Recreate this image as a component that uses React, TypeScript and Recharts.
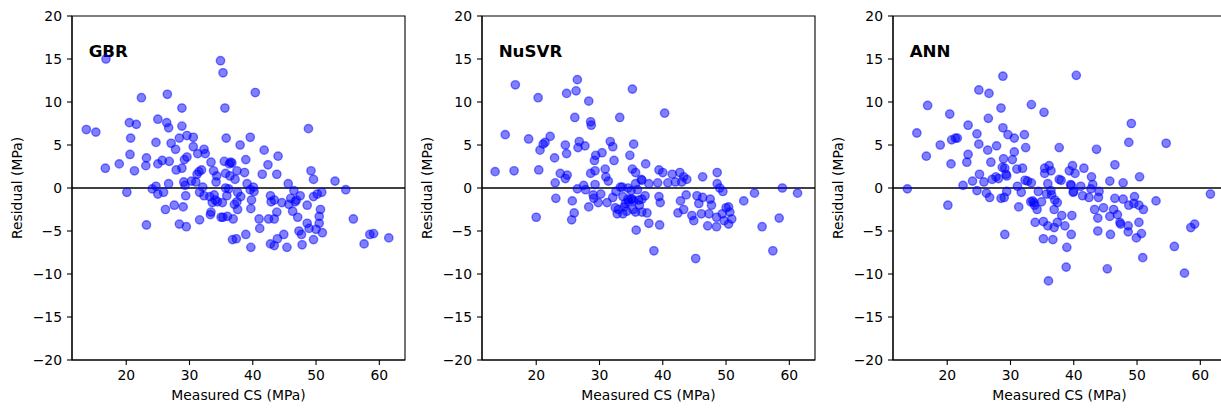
import React from 'react';
import { ScatterChart, Scatter, XAxis, YAxis, ReferenceLine, ReferenceArea, Label } from 'recharts';

const xTicks = [20, 30, 40, 50, 60];
const yTicks = [-20, -15, -10, -5, 0, 5, 10, 15, 20];
const titles = ['GBR', 'NuSVR', 'ANN'];
const X_DOMAIN: [number, number] = [11.43, 64.06];
const Y_DOMAIN: [number, number] = [-20, 20];

const gbrX = [13.7,15.2,16.8,16.7,18.9,20.1,20.5,20.7,20.6,21.6,21.3,22.4,23.2,23.1,23.2,24.1,24.7,24.7,25.0,25.0,25.0,25.7,25.9,26.2,26.4,26.5,26.7,26.7,26.8,27.1,27.6,27.8,27.9,28.4,28.4,28.8,28.8,28.8,29.0,29.1,29.2,29.5,29.4,29.3,29.6,29.6,30.3,30.6,30.6,31.0,31.2,31.3,31.5,31.6,31.6,31.9,32.1,32.3,32.3,32.5,33.2,33.4,33.3,33.4,33.6,33.8,33.9,34.1,34.2,34.3,34.4,34.9,35.3,35.0,35.3,35.2,35.5,35.6,35.8,35.7,35.7,35.9,36.0,36.2,36.3,36.5,36.7,36.4,36.9,36.8,37.1,37.2,37.4,37.5,37.6,37.6,37.5,38.0,38.1,38.7,38.9,38.9,39.1,39.6,39.6,39.7,39.7,39.8,40.1,40.2,40.4,41.0,41.1,41.5,41.8,42.4,42.5,42.8,42.9,42.8,43.4,43.4,43.4,43.8,43.8,43.9,44.0,44.6,44.9,45.4,45.6,45.7,46.0,46.3,46.5,46.7,46.9,47.1,47.3,47.5,47.7,47.8,48.6,48.6,48.8,48.9,49.2,49.6,49.6,49.6,50.0,50.2,50.5,50.5,50.7,51.0,50.9,53.0,54.7,55.9,57.6,58.5,59.1,61.5];
const gbrY = [6.8,6.5,15.0,2.3,2.8,-0.5,7.6,5.8,3.9,7.4,2.0,10.5,3.5,2.6,-4.3,-0.1,5.3,0.2,8.0,2.8,-0.7,3.2,-0.5,-2.5,7.6,10.9,7.0,0.5,3.1,5.2,-2.0,4.5,2.1,5.8,-4.2,7.2,9.3,2.3,-2.2,0.7,3.3,-4.5,-0.9,0.3,3.6,6.1,0.8,5.9,4.8,0.7,1.6,4.0,1.9,-3.7,-0.5,2.1,0.1,-0.9,4.5,4.0,-1.0,3.0,-3.1,-2.8,-1.7,2.0,-0.8,-1.4,0.7,1.4,-1.6,14.8,13.4,-3.4,-3.4,-1.7,3.1,9.3,5.8,1.7,0.0,-0.9,-3.3,-0.1,2.8,3.0,2.9,1.4,-3.6,-6.0,-1.9,1.0,-5.9,2.0,-0.5,-2.5,-1.6,5.0,-1.0,1.8,-5.4,3.3,0.5,5.9,-0.2,-6.9,-2.4,-1.4,0.1,-0.4,11.1,-3.6,-4.7,1.6,4.4,2.7,-3.6,-0.9,-1.6,-6.5,-3.6,-6.7,-1.4,1.6,-2.8,-5.9,3.7,-1.7,-5.4,-6.9,0.5,-1.9,-1.2,-2.7,-0.3,-1.6,-1.4,-3.4,-5.0,-0.9,-5.4,-6.6,-2.0,-4.1,6.9,-4.7,2.0,1.0,-1.0,-6.0,-4.8,-0.7,-3.3,-4.1,-2.5,-5.2,-0.5,0.8,-0.2,-3.6,-6.5,-5.4,-5.3,-5.8];

const svrX = [13.5,15.1,16.5,16.7,18.8,20.3,20.4,20.6,21.1,21.4,22.2,22.9,23.0,23.1,23.8,24.6,24.6,24.8,24.8,24.9,25.7,26.1,26.3,26.5,26.8,26.6,26.5,27.5,27.7,27.8,28.3,28.6,28.7,28.3,28.6,29.0,29.1,29.2,29.4,29.3,29.3,29.8,30.2,30.4,30.9,31.0,31.2,31.4,31.7,32.1,32.1,32.3,32.6,33.2,33.3,33.6,33.7,34.1,34.8,35.2,35.2,35.4,35.7,35.7,35.2,36.7,37.3,40.3,39.4,40.0,41.5,42.7,43.3,43.8,46.3,48.6,48.6,49.0,49.5,36.6,37.8,39.2,40.8,42.0,43.0,54.5,58.9,61.3,43.7,45.4,46.3,47.5,42.8,52.8,37.2,39.4,20.0,25.6,26.0,33.0,33.7,35.8,35.7,36.7,34.5,35.4,36.2,37.8,38.6,39.5,36.7,37.5,39.6,42.4,43.3,44.6,44.9,45.7,46.1,45.2,47.1,47.3,47.7,48.5,48.5,49.4,49.7,50.0,50.4,50.6,50.9,50.4,55.7,57.4,58.4,32.5,33.9,34.6,35.0,36.0,35.0,34.5,32.8,34.3,35.3,36.3];
const svrY = [1.9,6.2,2.0,12.0,5.7,10.5,2.1,4.4,5.1,5.3,6.0,3.5,0.6,-1.2,1.7,5.0,1.1,4.0,11.0,1.5,-1.5,8.2,11.3,12.6,5.4,4.7,-0.1,0.3,4.9,-0.2,10.1,7.7,7.3,-2.2,1.7,-0.8,-1.2,3.2,3.8,2.0,0.4,-1.7,-0.7,4.1,2.2,1.3,-1.7,0.8,5.4,4.8,-1.1,3.2,-0.4,8.2,0.1,0.1,-1.0,-1.8,3.8,11.5,2.2,5.1,1.8,0.5,-1.3,0.9,2.8,8.7,2.1,1.8,1.6,1.8,1.3,1.0,1.3,1.8,0.5,0.0,-0.4,1.0,0.5,0.6,0.6,0.7,0.7,-0.6,0.0,-0.6,-0.8,-0.9,-1.1,-1.3,-1.5,-1.5,-0.9,-1.0,-3.4,-3.7,-2.9,-2.5,-3.0,-4.9,-2.8,-2.8,-1.3,-1.5,-1.4,-4.1,-7.3,-4.3,-1.3,-2.9,-1.7,-2.9,-2.5,-3.2,-3.8,-1.8,-3.0,-8.2,-4.4,-3.0,-2.0,-4.5,-3.4,-3.0,-3.8,-2.3,-2.2,-2.8,-3.6,-4.2,-4.5,-7.3,-3.5,-2.3,-2.2,-1.6,-1.3,-0.2,-0.3,0.0,-3.0,-2.7,-2.5,-2.0];

const annX = [13.7,15.2,16.7,16.9,18.9,20.1,20.4,20.6,20.7,21.3,21.6,22.5,23.1,23.3,23.3,24.0,24.7,24.7,25.0,25.0,25.1,25.8,26.2,26.4,26.5,26.6,26.7,26.9,27.1,27.8,27.7,28.1,28.5,28.5,28.8,28.8,28.9,29.0,28.7,29.1,29.3,29.4,29.4,29.6,30.3,30.6,30.6,31.0,31.1,31.3,31.7,31.9,32.2,32.3,32.4,32.7,33.3,33.3,33.7,34.4,35.3,35.4,35.4,35.7,35.9,36.1,40.4,49.1,48.7,54.6,37.7,43.6,36.4,39.8,39.3,40.2,41.6,42.8,46.5,50.4,37.7,38.0,45.7,47.8,39.5,41.1,43.0,44.0,42.7,40.0,41.4,42.4,61.6,53.0,49.6,49.5,46.5,47.8,50.3,36.5,37.0,29.1,33.5,33.8,34.2,33.9,35.2,35.2,36.0,35.9,36.7,36.9,36.9,37.4,37.4,38.1,38.6,38.9,38.8,39.6,39.7,39.9,43.3,43.8,43.8,44.7,45.3,45.7,45.8,46.3,46.9,47.3,47.4,48.6,48.6,48.7,49.9,50.3,50.7,50.9,51.0,55.9,57.5,58.5,59.1,33.2,34.9,36.4,39.6,43.9];
const annY = [-0.1,6.4,3.7,9.6,5.0,-2.0,8.6,2.8,5.6,5.8,5.8,0.3,3.0,3.9,7.3,0.8,-0.3,6.3,5.1,11.4,1.6,0.7,-0.6,4.4,8.1,11.0,-1.1,3.0,1.0,4.9,1.3,1.1,9.3,-1.2,13.0,7.0,3.4,-1.1,2.4,2.3,1.6,1.4,-0.4,6.2,3.3,5.8,4.2,2.2,0.2,-2.2,-0.5,2.3,6.2,0.9,4.7,0.8,9.7,0.6,-1.7,-0.4,8.8,2.3,1.7,-0.7,0.5,2.6,13.1,7.5,5.3,5.2,4.7,4.5,2.0,2.6,2.0,1.7,2.3,1.3,2.7,1.3,1.0,0.9,0.8,0.6,0.4,0.2,0.4,-0.4,-0.1,-0.4,-0.9,-1.1,-0.7,-1.5,-1.0,-1.8,-1.2,-1.3,-2.0,-0.8,-1.4,-5.4,-1.5,-2.0,-2.5,-4.0,-3.9,-5.9,-10.8,-4.4,-6.0,-4.6,-2.5,-1.7,-4.0,-3.2,-4.4,-6.9,-9.2,-5.4,-3.2,-0.5,-2.5,-3.5,-5.0,-2.3,-9.4,-3.3,-5.4,-2.5,-3.1,-4.0,-4.2,-5.1,-4.4,-2.0,-5.8,-4.0,-5.3,-8.1,-2.5,-6.8,-9.9,-4.6,-4.2,-1.6,-1.6,-0.3,0.3,-1.1];

const seriesX = [gbrX, svrX, annX];
const seriesY = [gbrY, svrY, annY];

const FONT = 'DejaVu Sans';
const fmt = (v: number) => (v < 0 ? '\u2212' + Math.abs(v) : String(v));

const Dot = (props: any) => {
  const { cx, cy } = props;
  if (cx == null || cy == null) return null;
  return (
    <circle cx={cx} cy={cy} r={4.17} fill="#0000ff" fillOpacity={0.5}
      stroke="#0000ff" strokeOpacity={0.5} strokeWidth={1.39} />
  );
};

const tickStyle = { fill: '#000', fontSize: 13.9, fontFamily: FONT };

function Panel({ idx }: { idx: number }) {
  const data = seriesX[idx].map((x, i) => ({ x, y: seriesY[idx][i] }));
  const title = titles[idx];
  return (
    <ScatterChart width={410} height={408} margin={{ top: 16, right: 5, bottom: 0, left: 0 }}>
      <XAxis
        dataKey="x" type="number" domain={X_DOMAIN} allowDataOverflow
        ticks={xTicks} interval={0} height={48} tickSize={5} tickMargin={5.5}
        tick={tickStyle} axisLine={{ stroke: '#000', strokeWidth: 1.1 }}
        tickLine={{ stroke: '#000', strokeWidth: 1.1 }}
      >
        <Label content={(p: any) => {
          const vb = p.viewBox || {};
          return (
            <text x={vb.x + vb.width / 2} y={400} textAnchor="middle"
              fontFamily={FONT} fontSize={13.9} fill="#000">Measured CS (MPa)</text>
          );
        }} />
      </XAxis>
      <YAxis
        dataKey="y" type="number" domain={Y_DOMAIN} allowDataOverflow
        ticks={yTicks} interval={0} width={72} tickSize={5} tickMargin={5}
        tick={tickStyle} tickFormatter={fmt} axisLine={{ stroke: '#000', strokeWidth: 1.1 }}
        tickLine={{ stroke: '#000', strokeWidth: 1.1 }}
      >
        <Label content={(p: any) => {
          const vb = p.viewBox || {};
          const cy = vb.y + vb.height / 2;
          return (
            <text x={22} y={cy} transform={`rotate(-90 22 ${cy})`} textAnchor="middle"
              fontFamily={FONT} fontSize={13.9} fill="#000">Residual (MPa)</text>
          );
        }} />
      </YAxis>
      <ReferenceArea x1={X_DOMAIN[0]} x2={X_DOMAIN[1]} y1={Y_DOMAIN[0]} y2={Y_DOMAIN[1]}
        fill="none" fillOpacity={0} stroke="#000" strokeWidth={1.1} strokeOpacity={1} ifOverflow="visible">
        <Label content={(p: any) => {
          const vb = p.viewBox || {};
          return (
            <text x={vb.x + vb.width * 0.05} y={vb.y + 41} fontFamily={FONT}
              fontWeight="bold" fontSize={16.7} fill="#000">{title}</text>
          );
        }} />
      </ReferenceArea>
      <ReferenceLine y={0} stroke="#000" strokeWidth={1.5} />
      <Scatter data={data} shape={<Dot />} isAnimationActive={false} />
    </ScatterChart>
  );
}

export default function App() {
  return (
    <div style={{ position: 'absolute', left: 0, top: 0, width: 1221, height: 408, overflow: 'hidden', background: '#fff', fontFamily: FONT }}>
      {[0, 1, 2].map((i) => (
        <div key={i} style={{ position: 'absolute', left: i * 410.3, top: 0 }}>
          <Panel idx={i} />
        </div>
      ))}
    </div>
  );
}
